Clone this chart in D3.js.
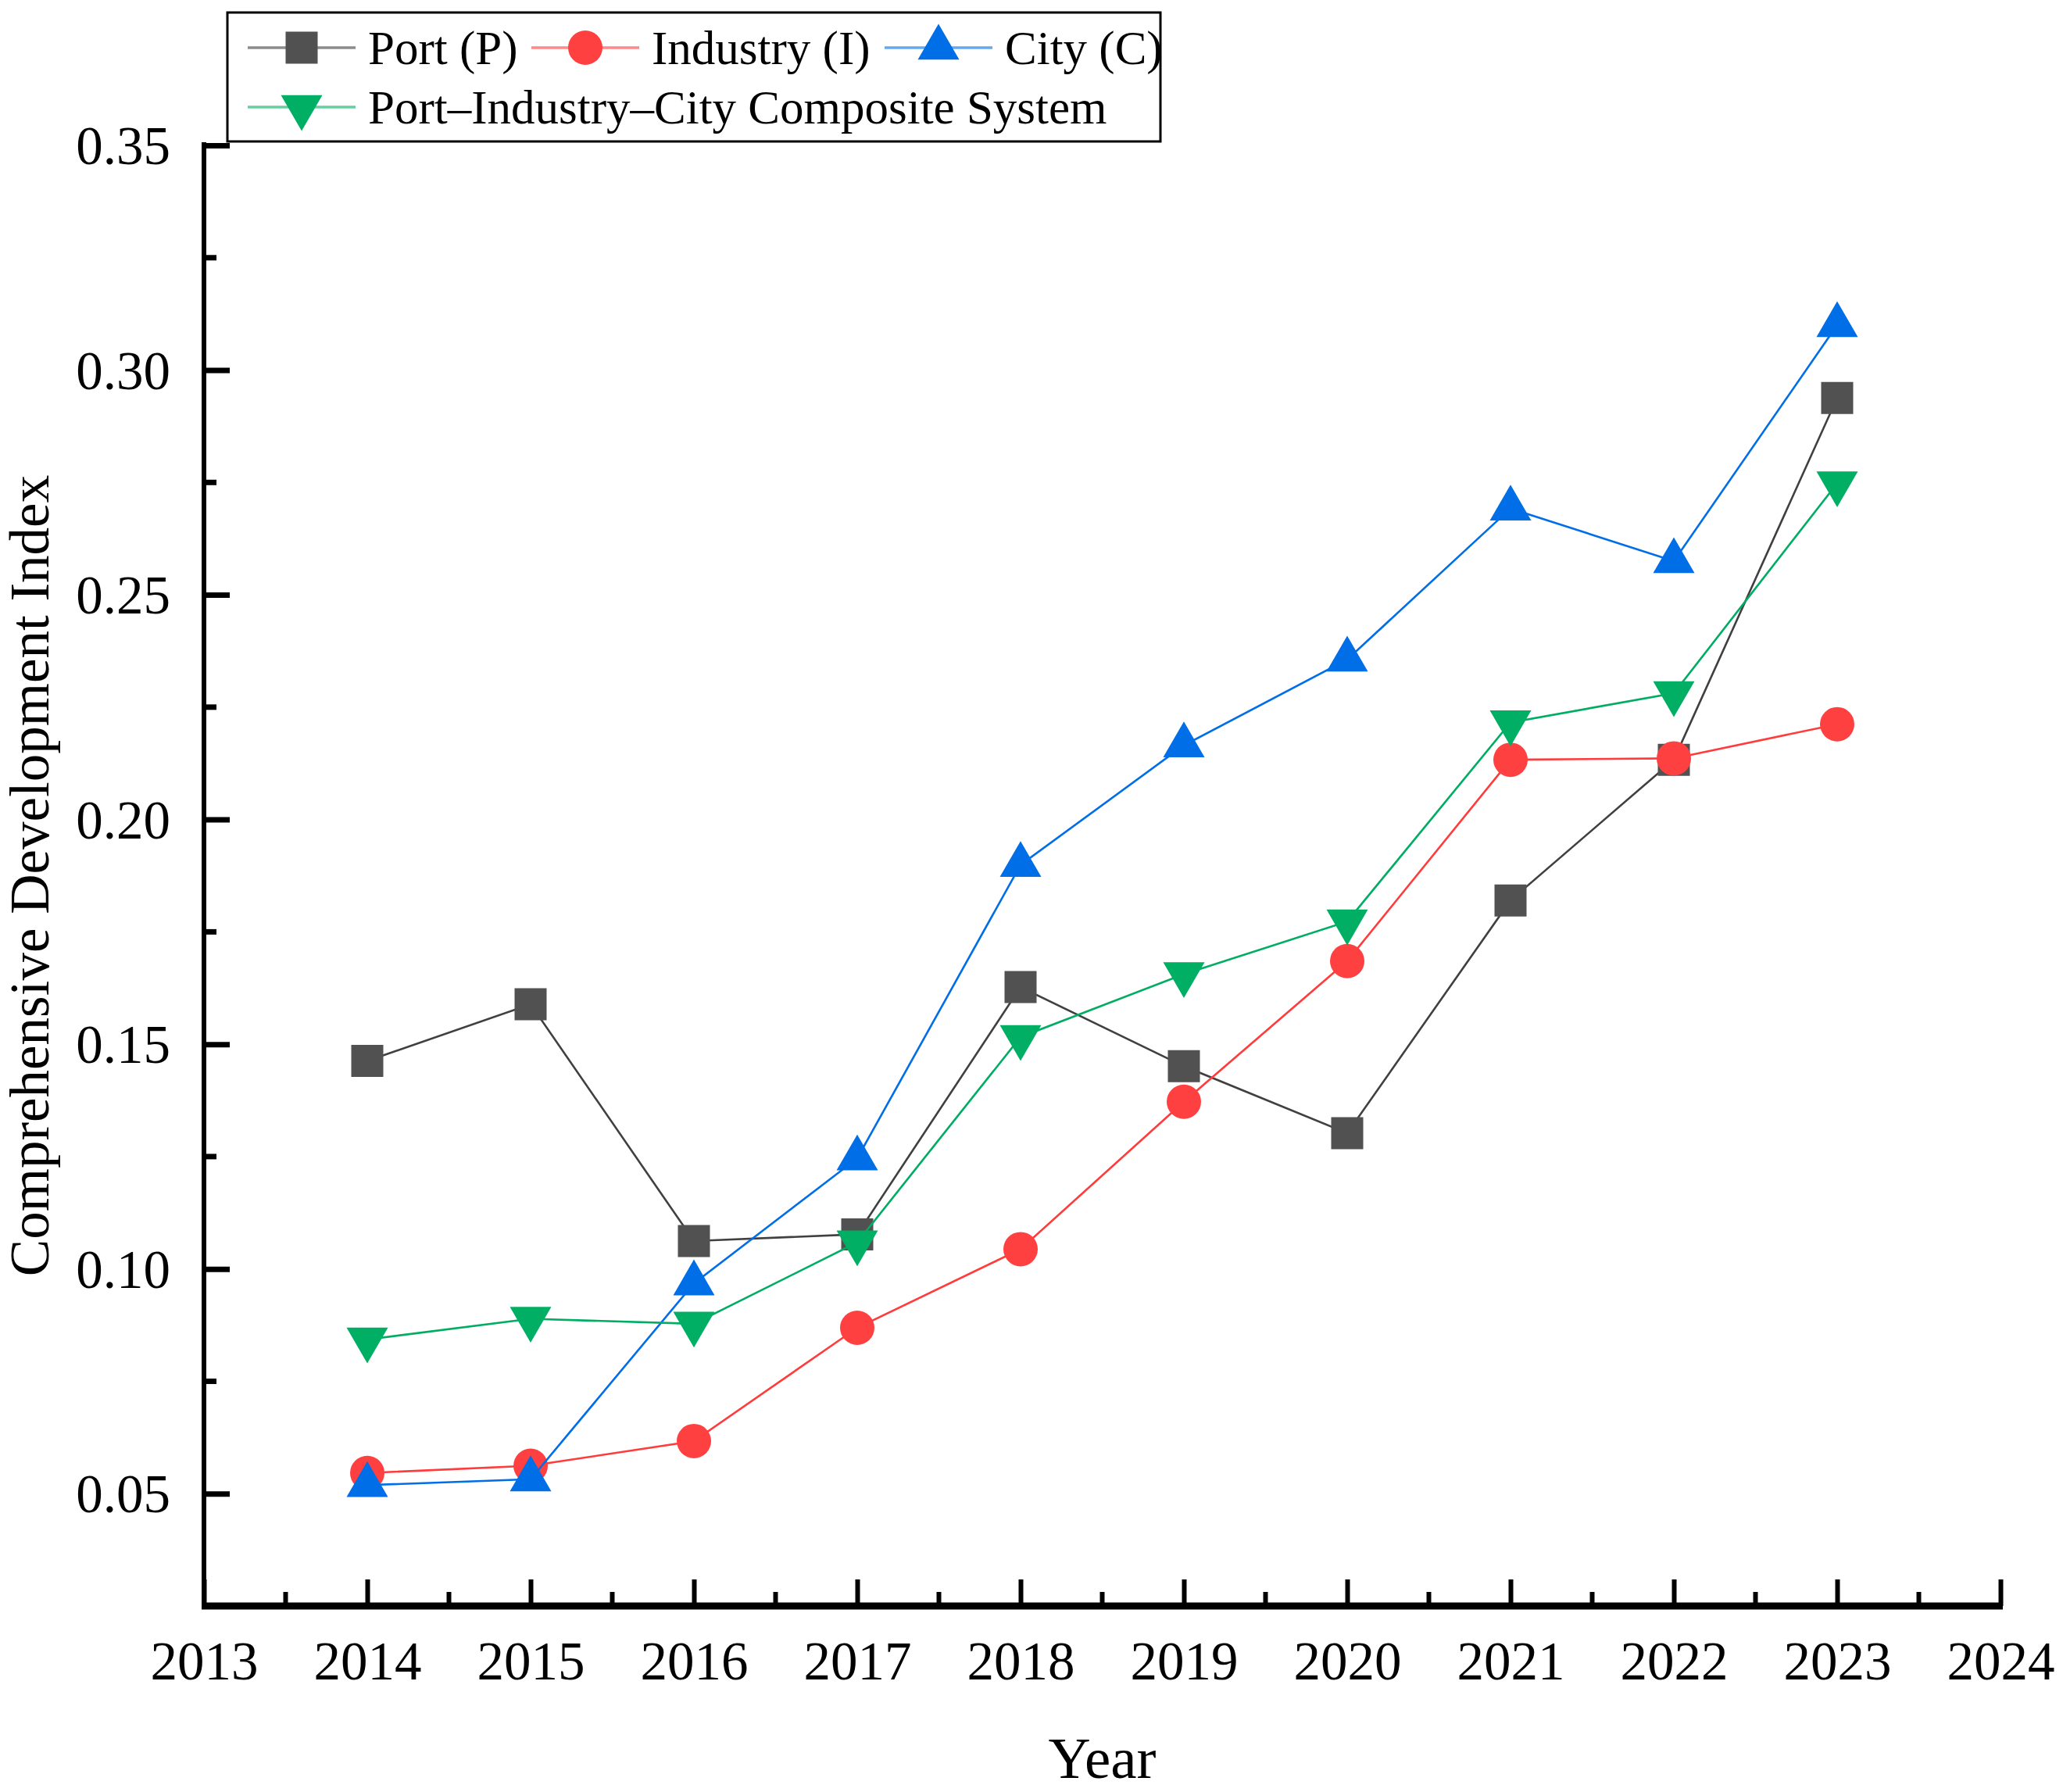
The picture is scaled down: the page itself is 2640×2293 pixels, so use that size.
<!DOCTYPE html>
<html>
<head>
<meta charset="utf-8">
<script src="https://cdn.jsdelivr.net/npm/d3@7"></script>
<style>
  html, body { margin: 0; padding: 0; background: #fff; }
  svg { display: block; font-family: "Liberation Serif", "Times New Roman", serif; }
</style>
</head>
<body>
<svg id="chart" width="2640" height="2293"></svg>
<script>
// --- data ---
const years = [2014, 2015, 2016, 2017, 2018, 2019, 2020, 2021, 2022, 2023];
const port      = [0.1463, 0.1589, 0.1062, 0.1077, 0.1627, 0.1451, 0.1302, 0.1820, 0.2133, 0.2938];
const industry  = [0.0546, 0.0562, 0.0617, 0.0869, 0.1044, 0.1372, 0.1685, 0.2133, 0.2136, 0.2212];
const city      = [0.0519, 0.0532, 0.0968, 0.1246, 0.1899, 0.2165, 0.2356, 0.2692, 0.2575, 0.3100];
const composite = [0.0843, 0.0889, 0.0878, 0.1059, 0.1516, 0.1656, 0.1773, 0.2216, 0.2281, 0.2748];
const seriesNames = ["Port (P)", "Industry (I)", "City (C)", "Port\u2013Industry\u2013City Composite System"];
const yTicks = [0.05, 0.10, 0.15, 0.20, 0.25, 0.30, 0.35];
const xTicks = [2013, 2014, 2015, 2016, 2017, 2018, 2019, 2020, 2021, 2022, 2023, 2024];

const svg = d3.select("#chart");
svg.append("rect").attr("width", 2640).attr("height", 2293).attr("fill", "#fff");

const plot = {left: 261, right: 2560, top: 186, bottom: 2055};
const serif = "'Liberation Serif', 'Times New Roman', serif";

const x = d3.scaleLinear().domain([2013, 2024]).range([plot.left, plot.right]);
const y = d3.scaleLinear().domain([0.025, 0.35]).range([plot.bottom, plot.top]);

// marker shapes (triangles centred on their centroid)
function shapePath(kind) {
  if (kind === "square") return "M-20.5,-20.5H20.5V20.5H-20.5Z";
  if (kind === "circle") return "M22,0A22,22 0 1,1 -22,0A22,22 0 1,1 22,0Z";
  if (kind === "up")   return "M0,-30.5L26.5,15.3L-26.5,15.3Z";
  return "M0,30.5L26.5,-15.3L-26.5,-15.3Z";
}

const series = [
  {name: seriesNames[0], values: port,      line: "#404040", fill: "#515151", shape: "square"},
  {name: seriesNames[1], values: industry,  line: "#ff3b3b", fill: "#ff4040", shape: "circle"},
  {name: seriesNames[2], values: city,      line: "#006ee6", fill: "#006ee6", shape: "up"},
  {name: seriesNames[3], values: composite, line: "#00ad63", fill: "#00ae64", shape: "down"}
];

// --- axes ---
const gx = svg.append("g").attr("transform", `translate(0,${plot.bottom})`);
gx.call(d3.axisBottom(x).tickValues(xTicks).tickFormat(d3.format("d")).tickSize(-34).tickPadding(0));
gx.attr("font-family", serif).attr("font-size", null);
gx.select(".domain").remove();
gx.selectAll(".tick line").attr("stroke", "#000").attr("stroke-width", 6);
gx.selectAll(".tick text")
  .attr("dy", null).attr("y", 94)
  .style("font-size", "69px").attr("fill", "#000");
// minor x ticks
gx.selectAll("line.minor")
  .data(d3.range(2013.5, 2024, 1))
  .enter().append("line")
    .attr("class", "minor")
    .attr("x1", d => x(d)).attr("x2", d => x(d))
    .attr("y1", 0).attr("y2", -18)
    .attr("stroke", "#000").attr("stroke-width", 6);
gx.append("line")
  .attr("x1", plot.left - 3).attr("x2", plot.right + 3)
  .attr("y1", 0).attr("y2", 0)
  .attr("stroke", "#000").attr("stroke-width", 9);

const gy = svg.append("g").attr("transform", `translate(${plot.left},0)`);
gy.call(d3.axisLeft(y).tickValues(yTicks).tickFormat(d3.format(".2f")).tickSize(-33).tickPadding(0));
gy.attr("font-family", serif).attr("font-size", null);
gy.select(".domain").remove();
gy.selectAll(".tick line").attr("stroke", "#000").attr("stroke-width", 7);
gy.selectAll(".tick text")
  .attr("x", -43).attr("dy", "0.34em")
  .style("font-size", "69px").attr("fill", "#000");
gy.selectAll("line.minor")
  .data([0.075, 0.125, 0.175, 0.225, 0.275, 0.325])
  .enter().append("line")
    .attr("class", "minor")
    .attr("x1", 0).attr("x2", 16)
    .attr("y1", d => y(d)).attr("y2", d => y(d))
    .attr("stroke", "#000").attr("stroke-width", 7);
gy.append("line")
  .attr("x1", 0).attr("x2", 0)
  .attr("y1", plot.top - 4).attr("y2", plot.bottom)
  .attr("stroke", "#000").attr("stroke-width", 6);

// --- axis titles ---
svg.append("text")
  .attr("x", (plot.left + plot.right) / 2).attr("y", 2275)
  .attr("text-anchor", "middle")
  .style("font-size", "75px")
  .text("Year");

svg.append("text")
  .attr("transform", `translate(62,${(plot.top + plot.bottom) / 2}) rotate(-90)`)
  .attr("text-anchor", "middle")
  .style("font-size", "71px")
  .text("Comprehensive Development Index");

// --- series ---
const line = d3.line().x(d => x(d.year)).y(d => y(d.value));
series.forEach(s => {
  const pts = years.map((yr, i) => ({year: yr, value: s.values[i]}));
  const g = svg.append("g");
  g.append("path")
    .datum(pts)
    .attr("d", line)
    .attr("fill", "none")
    .attr("stroke", s.line)
    .attr("stroke-width", 2.6);
  g.selectAll("path.mark")
    .data(pts)
    .enter().append("path")
      .attr("class", "mark")
      .attr("transform", d => `translate(${x(d.year)},${y(d.value)})`)
      .attr("d", shapePath(s.shape))
      .attr("fill", s.fill);
});

// --- legend ---
const legend = svg.append("g");
legend.append("rect")
  .attr("x", 291).attr("y", 16).attr("width", 1194).attr("height", 165)
  .attr("fill", "#fff").attr("stroke", "#000").attr("stroke-width", 3);

const legendItems = [
  {s: series[0], x0: 317, row: 61},
  {s: series[1], x0: 680, row: 61},
  {s: series[2], x0: 1132, row: 61},
  {s: series[3], x0: 317, row: 137}
];
legendItems.forEach(it => {
  const g = legend.append("g").attr("transform", `translate(${it.x0},${it.row})`);
  g.append("line")
    .attr("x1", 0).attr("x2", 138).attr("y1", 0).attr("y2", 0)
    .attr("stroke", it.s.line).attr("stroke-width", 3.5).attr("stroke-opacity", 0.6);
  g.append("path")
    .attr("transform", "translate(69,0)")
    .attr("d", shapePath(it.s.shape))
    .attr("fill", it.s.fill);
  g.append("text")
    .attr("x", 154).attr("y", 21)
    .style("font-size", "61px")
    .text(it.s.name);
});
</script>
</body>
</html>
